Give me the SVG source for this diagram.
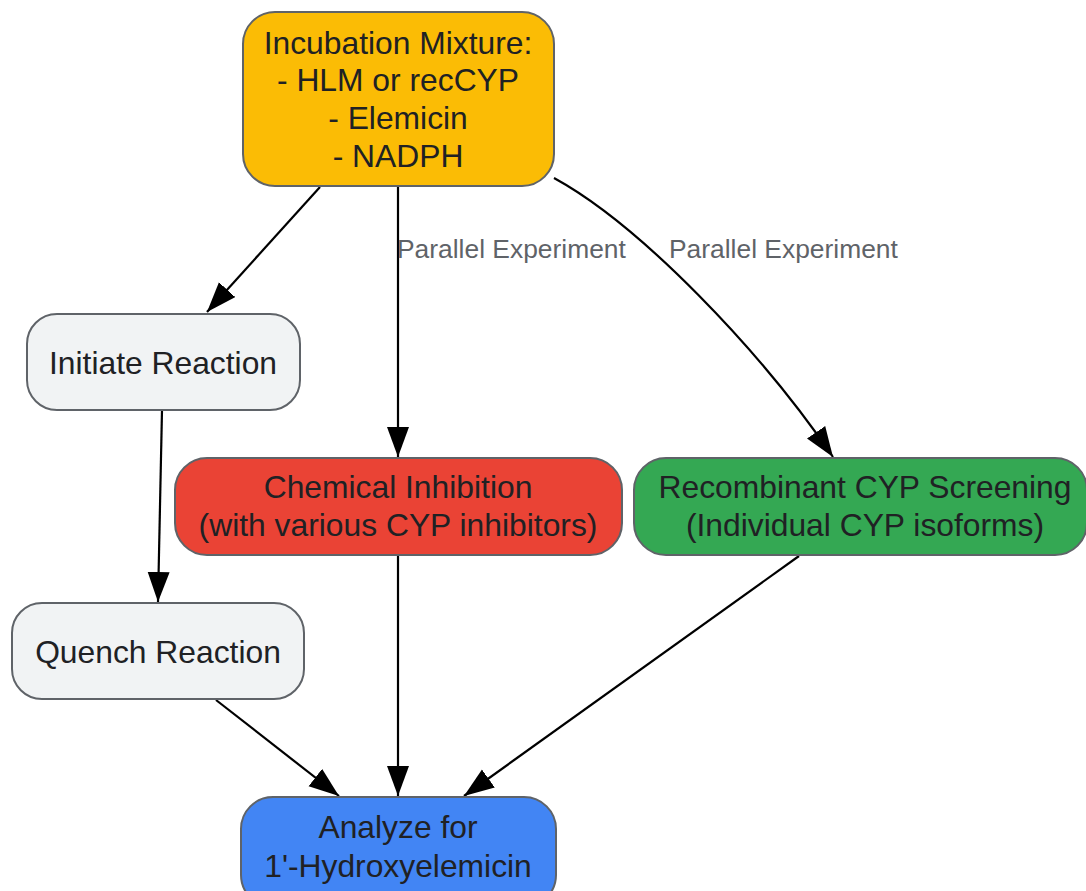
<svg xmlns="http://www.w3.org/2000/svg" width="1086" height="891" viewBox="0 0 1086 891">
<style>
.node rect{stroke:#5f6368;stroke-width:2}
.node text{font-family:"Liberation Sans",Arial,sans-serif;font-size:31.8px;fill:#202124;text-anchor:middle}
.edge{fill:none;stroke:#000;stroke-width:2.2}
.lbl{font-family:"Liberation Sans",Arial,sans-serif;font-size:26.4px;fill:#5f6368}
</style>
<defs>
<marker id="ah" markerUnits="userSpaceOnUse" markerWidth="32" markerHeight="24" refX="30" refY="11" orient="auto">
<path d="M0,0 L30,11 L0,22 z" fill="#000"/>
</marker>
</defs>
<rect width="1086" height="891" fill="#fff"/>
<g id="connectors">
<path class="edge" d="M320,187 L207,312" marker-end="url(#ah)"/>
<path class="edge" d="M398,187 L398,457" marker-end="url(#ah)"/>
<path class="edge" d="M554,178 C640,225 760,350 833,457" marker-end="url(#ah)"/>
<path class="edge" d="M162,410 L158,602" marker-end="url(#ah)"/>
<path class="edge" d="M216,700 L339,796" marker-end="url(#ah)"/>
<path class="edge" d="M398,556 L398,796" marker-end="url(#ah)"/>
<path class="edge" d="M799,556 L464,796" marker-end="url(#ah)"/>
<text class="lbl" x="397" y="258">Parallel Experiment</text>
<text class="lbl" x="669" y="258">Parallel Experiment</text>
</g>
<g id="incubation" class="node">
<rect x="243" y="12" width="311" height="174" rx="32" fill="#fbbc05"/>
<text x="398" y="54">Incubation Mixture:</text>
<text x="398" y="91">- HLM or recCYP</text>
<text x="398" y="129">- Elemicin</text>
<text x="398" y="167">- NADPH</text>
</g>
<g id="initiate" class="node">
<rect x="27" y="314" width="273" height="96" rx="30" fill="#f1f3f4"/>
<text x="163" y="374">Initiate Reaction</text>
</g>
<g id="quench" class="node">
<rect x="12" y="603" width="292" height="96" rx="30" fill="#f1f3f4"/>
<text x="158" y="663">Quench Reaction</text>
</g>
<g id="chemical" class="node">
<rect x="175" y="458" width="447" height="97" rx="32" fill="#ea4335"/>
<text x="398" y="498">Chemical Inhibition</text>
<text x="398" y="536">(with various CYP inhibitors)</text>
</g>
<g id="recombinant" class="node">
<rect x="634" y="458" width="453" height="97" rx="32" fill="#34a853"/>
<text x="865" y="498">Recombinant CYP Screening</text>
<text x="865" y="536">(Individual CYP isoforms)</text>
</g>
<g id="analyze" class="node">
<rect x="241" y="797" width="315" height="110" rx="32" fill="#4285f4"/>
<text x="398" y="838">Analyze for</text>
<text x="398" y="877">1'-Hydroxyelemicin</text>
</g>
</svg>
